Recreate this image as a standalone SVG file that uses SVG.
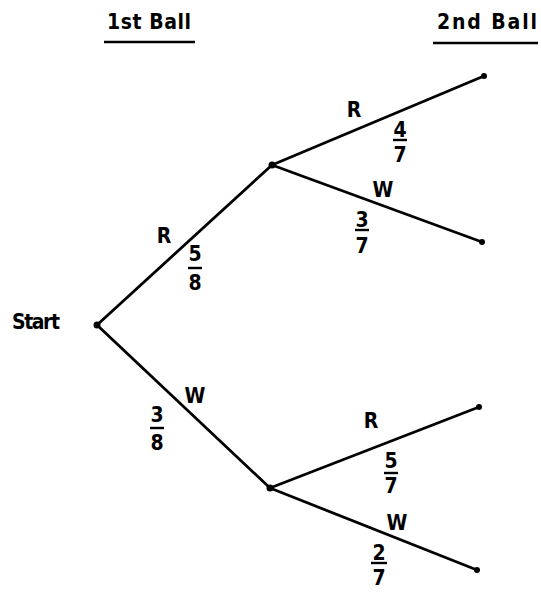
<svg xmlns="http://www.w3.org/2000/svg" width="541" height="597" viewBox="0 0 541 597">
<style>
text{font-family:"DejaVu Sans Condensed","DejaVu Sans","Liberation Sans",sans-serif;font-size:21px;font-weight:bold;fill:#000}
.lab{text-anchor:middle}
.edge{stroke:#000;stroke-width:2.8;fill:none;stroke-linecap:round}
.bar{stroke:#000;stroke-width:2.4}
.dot{fill:#000}
</style>
<rect width="541" height="597" fill="#fff"/>
<g id="headers">
<text x="107" y="29" textLength="84" lengthAdjust="spacing">1st Ball</text>
<line class="bar" x1="104" y1="42" x2="195" y2="42"/>
<text x="437" y="29" textLength="100" lengthAdjust="spacing">2nd Ball</text>
<line class="bar" x1="433" y1="43" x2="538" y2="43"/>
</g>
<g id="connectors">
<line class="edge" x1="97" y1="325" x2="272" y2="165"/>
<line class="edge" x1="97" y1="325" x2="270" y2="488"/>
<line class="edge" x1="272" y1="165" x2="484" y2="76"/>
<line class="edge" x1="272" y1="165" x2="482" y2="242"/>
<line class="edge" x1="270" y1="488" x2="479" y2="407"/>
<line class="edge" x1="270" y1="488" x2="477" y2="570"/>
</g>
<g id="start">
<circle class="dot" cx="97" cy="325" r="3.5"/>
<text x="12" y="329" textLength="48" lengthAdjust="spacing">Start</text>
</g>
<g id="node-R1">
<circle class="dot" cx="272" cy="165" r="3.5"/>
</g>
<g id="node-W1">
<circle class="dot" cx="270" cy="488" r="3.5"/>
</g>
<g id="leaf-RR"><circle class="dot" cx="484" cy="76" r="3"/></g>
<g id="leaf-RW"><circle class="dot" cx="482" cy="242" r="3"/></g>
<g id="leaf-WR"><circle class="dot" cx="479" cy="407" r="3"/></g>
<g id="leaf-WW"><circle class="dot" cx="477" cy="570" r="3"/></g>
<g id="labels">
<text class="lab" x="164" y="243">R</text>
<text class="lab" x="195" y="261">5</text>
<line class="bar" x1="188" y1="268" x2="202" y2="268"/>
<text class="lab" x="195" y="290">8</text>

<text class="lab" x="195" y="403">W</text>
<text class="lab" x="157" y="422">3</text>
<line class="bar" x1="150" y1="428" x2="164" y2="428"/>
<text class="lab" x="157" y="450">8</text>

<text class="lab" x="354" y="117">R</text>
<text class="lab" x="400" y="137">4</text>
<line class="bar" x1="393" y1="140" x2="407" y2="140"/>
<text class="lab" x="400" y="162">7</text>

<text class="lab" x="383" y="197">W</text>
<text class="lab" x="362" y="227">3</text>
<line class="bar" x1="355" y1="230" x2="369" y2="230"/>
<text class="lab" x="362" y="253">7</text>

<text class="lab" x="371" y="428">R</text>
<text class="lab" x="391" y="468">5</text>
<line class="bar" x1="384" y1="473" x2="398" y2="473"/>
<text class="lab" x="391" y="493">7</text>

<text class="lab" x="397" y="530">W</text>
<text class="lab" x="379" y="560">2</text>
<line class="bar" x1="371" y1="563" x2="387" y2="563"/>
<text class="lab" x="379" y="585">7</text>
</g>
</svg>
